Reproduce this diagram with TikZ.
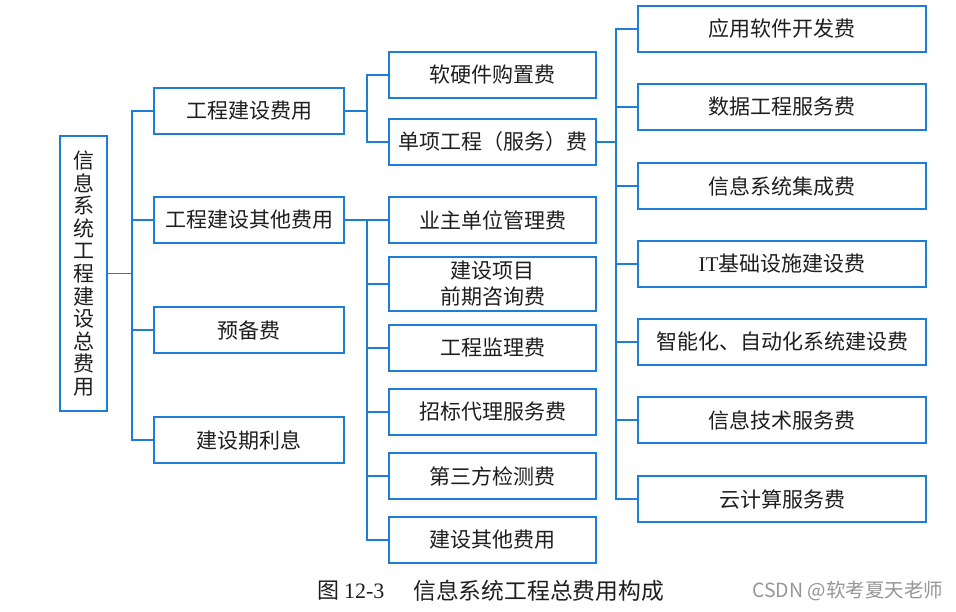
\documentclass[tikz,border=0pt]{standalone}
\usepackage{fontspec}
\setmainfont{Noto Sans CJK SC}
\newfontfamily\latinrm{Liberation Serif}
\usepackage{tikz}
\usetikzlibrary{positioning, calc}
\definecolor{LineBlue}{RGB}{30, 125, 215}
\definecolor{TextDark}{RGB}{30, 30, 30}
\definecolor{MarkGray}{RGB}{150, 150, 150}
\tikzset{
    every path/.style={line join=miter},
    costbox/.style={draw=LineBlue, line width=1.6pt, text=TextDark, inner sep=0pt, minimum height=46pt, align=center, font=\fontsize{21}{26}\selectfont},
    lvlone/.style={costbox, minimum width=190pt},
    lvltwo/.style={costbox, minimum width=207pt},
    lvlthree/.style={costbox, minimum width=288pt},
    link/.style={draw=LineBlue, line width=1.6pt}
}

\begin{document}
\begin{tikzpicture}[x=1pt, y=-1pt]
    \useasboundingbox (0,0) rectangle (956,611);

    % root
    \node [costbox, minimum width=47pt, minimum height=275pt, font=\fontsize{21}{22.6}\selectfont] (total) at (83.5,273.5) {信\\息\\系\\统\\工\\程\\建\\设\\总\\费\\用};

    % first level
    \node [lvlone] (buildcost) at (249,111) {工程建设费用};
    \node [lvlone] (othercost) at (249,220) {工程建设其他费用};
    \node [lvlone] (reserve) at (249,330) {预备费};
    \node [lvlone] (interest) at (249,440) {建设期利息};

    % second level
    \node [lvltwo] (purchase) at (492.5,75) {软硬件购置费};
    \node [lvltwo] (itemcost) at (492.5,142) {单项工程（服务）费};
    \node [lvltwo] (ownermgmt) at (492.5,220) {业主单位管理费};
    \node [lvltwo, minimum height=54pt] (consult) at (492.5,284) {建设项目\\前期咨询费};
    \node [lvltwo] (supervise) at (492.5,348) {工程监理费};
    \node [lvltwo] (tender) at (492.5,412) {招标代理服务费};
    \node [lvltwo] (thirdtest) at (492.5,476) {第三方检测费};
    \node [lvltwo] (otherbuild) at (492.5,540) {建设其他费用};

    % third level
    \node [lvlthree] (appdev) at (782,29) {应用软件开发费};
    \node [lvlthree] (dataeng) at (782,107) {数据工程服务费};
    \node [lvlthree] (sysint) at (782,186) {信息系统集成费};
    \node [lvlthree] (infra) at (782,264) {{\latinrm IT}基础设施建设费};
    \node [lvlthree] (automation) at (782,342) {智能化、自动化系统建设费};
    \node [lvlthree] (itservice) at (782,420) {信息技术服务费};
    \node [lvlthree] (cloud) at (782,499) {云计算服务费};

    % forks
    \coordinate (totalfork) at (132,273.5);
    \coordinate (buildfork) at (367,111);
    \coordinate (otherfork) at (367,220);
    \coordinate (itemfork) at (616,142);

    \draw [link] (total.east) -- (totalfork);
    \foreach \n in {buildcost, othercost, reserve, interest}
        \draw [link] (totalfork) |- (\n.west);

    \draw [link] (buildcost.east) -- (buildfork);
    \foreach \n in {purchase, itemcost}
        \draw [link] (buildfork) |- (\n.west);

    \draw [link] (othercost.east) -- (otherfork);
    \foreach \n in {ownermgmt, consult, supervise, tender, thirdtest, otherbuild}
        \draw [link] (otherfork) |- (\n.west);

    \draw [link] (itemcost.east) -- (itemfork);
    \foreach \n in {appdev, dataeng, sysint, infra, automation, itservice, cloud}
        \draw [link] (itemfork) |- (\n.west);

    % caption
    \node [anchor=west, inner sep=0pt, text=TextDark, font=\fontsize{22}{26}\selectfont] (fignum) at (317,591) {图 {\latinrm 12-3}};
    \node [anchor=west, inner sep=0pt, text=TextDark, font=\fontsize{22.8}{26}\selectfont] (figtitle) at (413,591) {信息系统工程总费用构成};
    \node [anchor=west, inner sep=0pt, text=MarkGray, font=\fontsize{19.5}{24}\selectfont] (mark) at (752,591) {CSDN @软考夏天老师};
\end{tikzpicture}
\end{document}
